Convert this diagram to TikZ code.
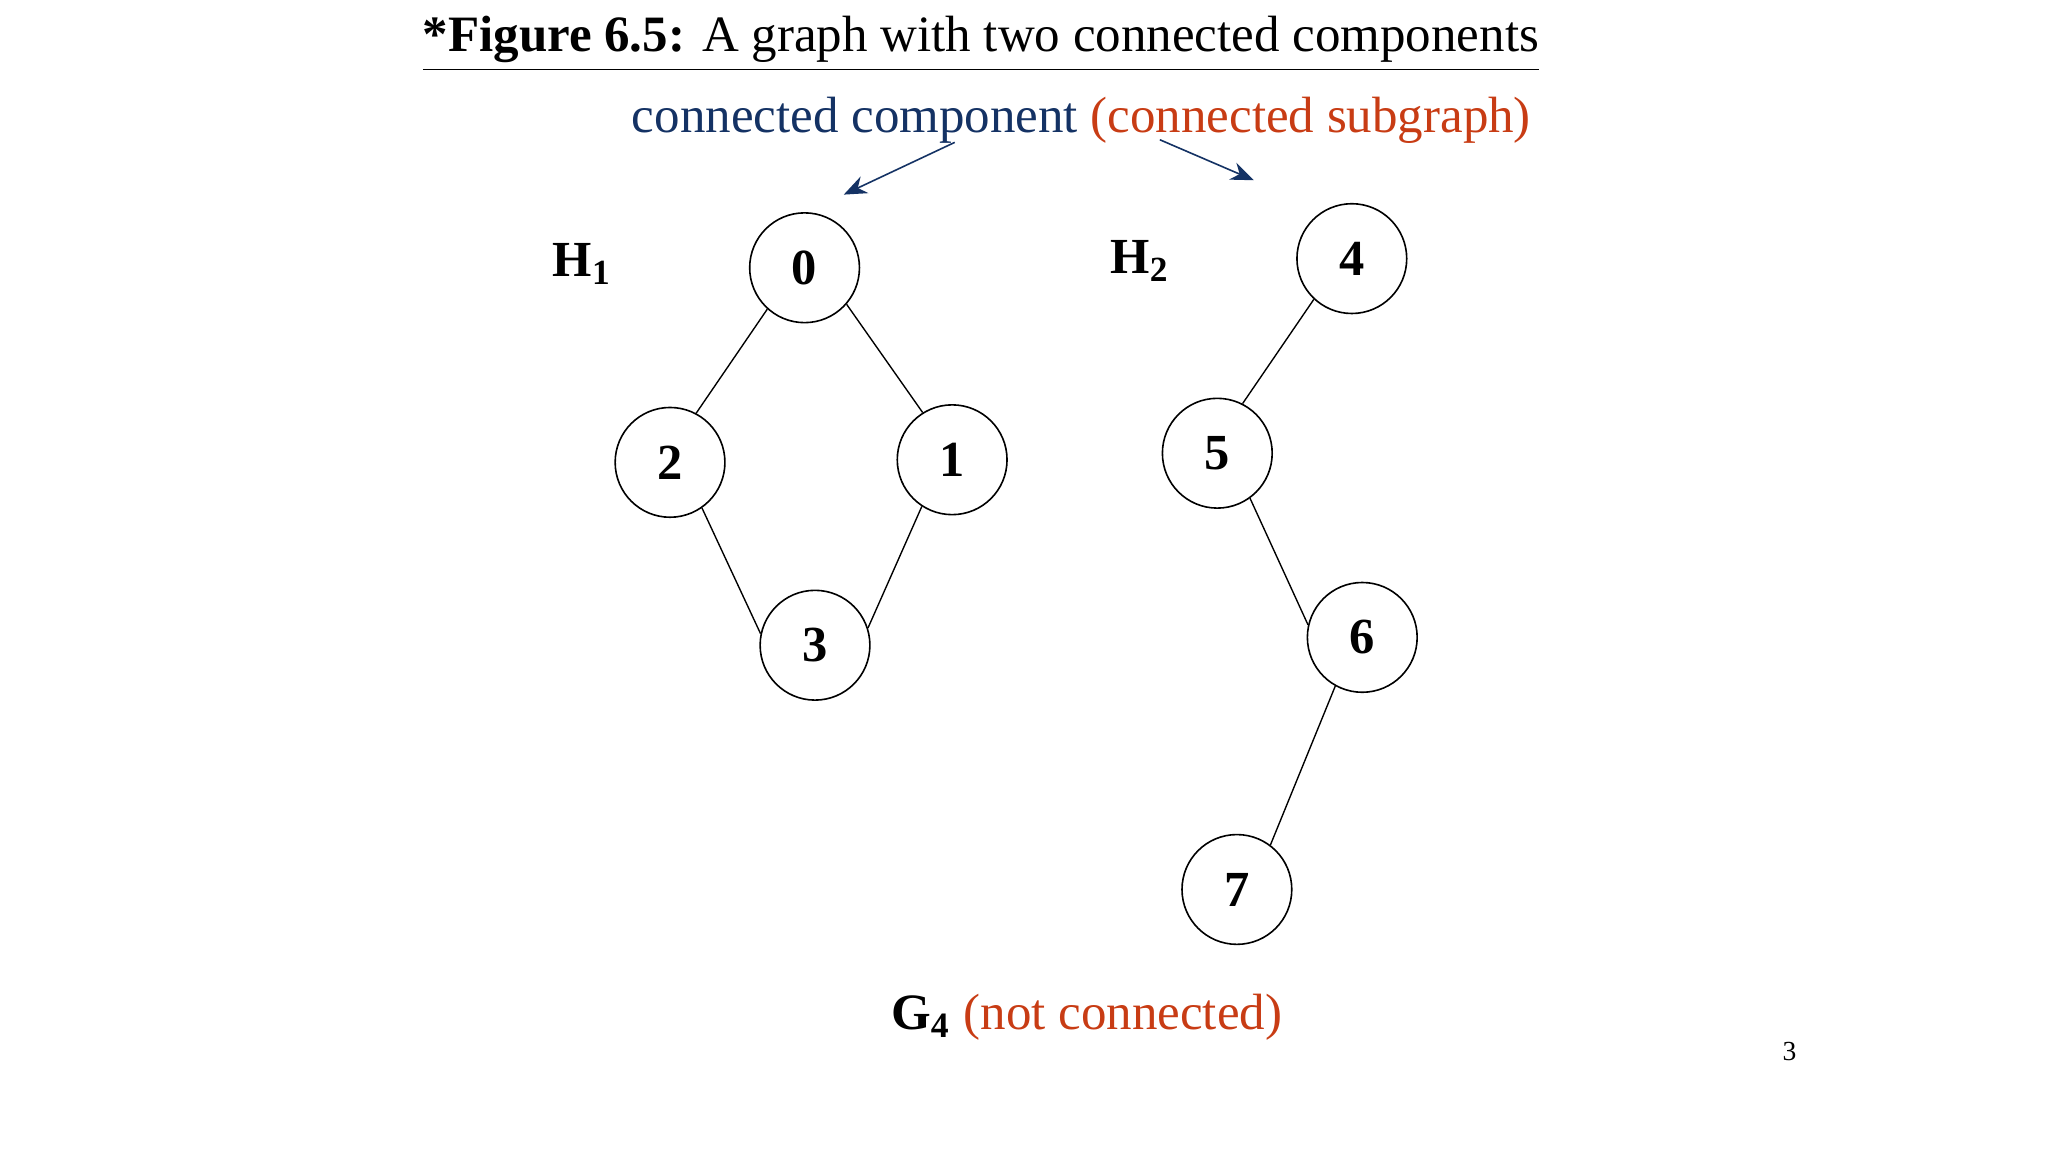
\documentclass[tikz,border=0pt]{standalone}
\usepackage{fontspec}
\setmainfont{Liberation Serif}
\usetikzlibrary{arrows.meta}
\definecolor{navy}{RGB}{20,50,100}
\definecolor{rust}{RGB}{200,60,20}
\begin{document}
\begin{tikzpicture}[x=0.01cm,y=-0.01cm,
  v/.style={circle,draw,line width=0.35pt,minimum size=0.84cm,inner sep=0pt,font=\fontsize{11}{13}\selectfont\bfseries},
  e/.style={line width=0.3pt},
  lab/.style={font=\fontsize{11}{13}\selectfont\bfseries},
  ar/.style={navy,line width=0.35pt,-{Stealth[length=5pt,width=4pt]}}]
\useasboundingbox (0,0) rectangle (1568,882);
\node (title) at (751,34) {\fontsize{11.1}{13}\selectfont\underline{\textbf{*Figure 6.5:} A graph with two connected components}};
\node (sub) at (828,92) {\fontsize{11.1}{13}\selectfont\textcolor{navy}{connected component} \textcolor{rust}{(connected subgraph)}};
\coordinate (a1s) at (731,109); \coordinate (a1e) at (646,149);
\coordinate (a2s) at (888,107); \coordinate (a2e) at (960,138);
\draw[ar] (a1s) -- (a1e);
\draw[ar] (a2s) -- (a2e);
\node[lab] (h1) at (446,202) {H\textsubscript{1}};
\node[lab] (h2) at (873,200) {H\textsubscript{2}};
\node[v] (n0) at (616,205) {0};
\node[v] (n1) at (729,352) {1};
\node[v] (n2) at (513,354) {2};
\node[v] (n3) at (624,494) {3};
\node[v] (n4) at (1035,198) {4};
\node[v] (n5) at (932,347) {5};
\node[v] (n6) at (1043,488) {6};
\node[v] (n7) at (947,681) {7};
\draw[e] (n0.228) -- (n2.62); \draw[e] (n0.319) -- (n1.122);
\draw[e] (n2.305) -- (n3.168); \draw[e] (n1.237) -- (n3.18);
\draw[e] (n4.227) -- (n5.63); \draw[e] (n5.306) -- (n6.167); \draw[e] (n6.241) -- (n7.53);
\node (g4) at (832,779) {\fontsize{11.1}{13}\selectfont\textbf{G\textsubscript{4}} \textcolor{rust}{(not connected)}};
\node (pg) at (1370,805) {\fontsize{6}{7}\selectfont 3};
\end{tikzpicture}
\end{document}
